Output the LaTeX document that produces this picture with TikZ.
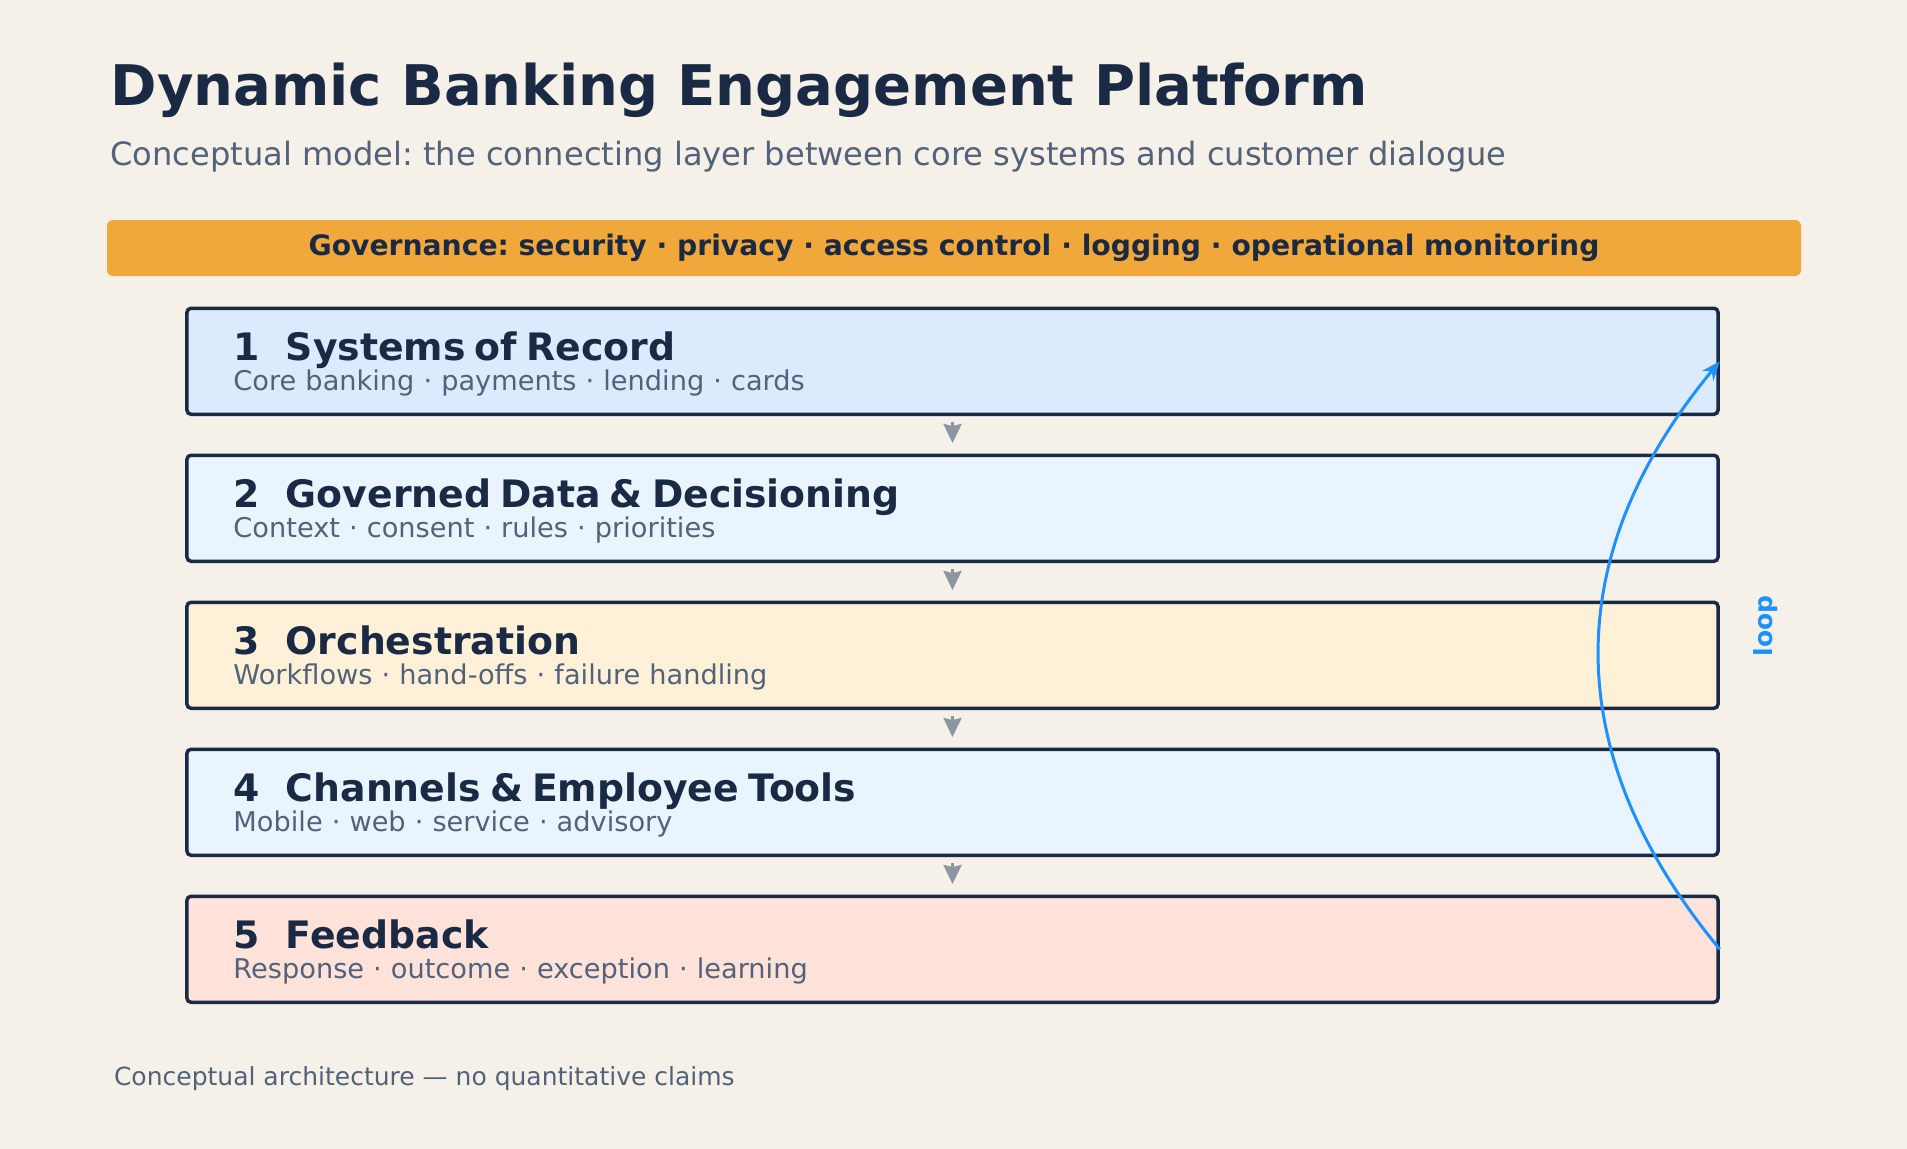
\documentclass[tikz,border=0pt]{standalone}
\usepackage{fontspec}
\setmainfont{DejaVu Sans}
\usepackage{tikz}
\usetikzlibrary{shapes,arrows,arrows.meta}
\usepackage{xcolor}

\definecolor{paper}{HTML}{F5F0E8}
\definecolor{navy}{HTML}{1B2A44}
\definecolor{slate}{HTML}{52627A}
\definecolor{govOrange}{HTML}{F0A83A}
\definecolor{recordBlue}{HTML}{DCEAFD}
\definecolor{paleBlue}{HTML}{EAF4FE}
\definecolor{orchCream}{HTML}{FFF1D8}
\definecolor{feedbackRose}{HTML}{FFE2DA}
\definecolor{arrowGray}{HTML}{8C96A2}
\definecolor{loopBlue}{HTML}{1E90FF}
\setlength{\lineskiplimit}{-20pt}
\frenchspacing
\newcommand{\layerhead}[2]{{\fontsize{37.8}{37.8}\selectfont\bfseries\color{navy}\rule{0pt}{33.5pt}#1\hspace{0.69em}#2}}
\newcommand{\andsign}{{\char`\&}}

\begin{document}
\begin{tikzpicture}[
  x=1pt,y=-1pt,
  every matrix/.style={ampersand replacement=\&,row sep=37.5pt,inner sep=0pt},
  layer/.style={draw=navy,line width=3.5pt,rounded corners=4pt,rectangle,text width=1438pt,
inner xsep=46.5pt,inner ysep=0pt,minimum height=106pt,align=left,text=slate,
font=\fontsize{27.2}{30}\selectfont},
  recordLayer/.style={layer,fill=recordBlue},
  dataLayer/.style={layer,fill=paleBlue},
  orchLayer/.style={layer,fill=orchCream},
  channelLayer/.style={layer,fill=paleBlue},
  feedbackLayer/.style={layer,fill=feedbackRose},
  govBar/.style={fill=govOrange,rounded corners=6pt,minimum width=1694pt,minimum
height=56pt,inner sep=0pt,text=navy,font=\fontsize{28.2}{28.2}\selectfont\bfseries},
  flowArrow/.style={->,>={Stealth[length=19pt,width=18pt,inset=2pt]},line width=3pt,
arrowGray,shorten <=6pt,shorten >=10.5pt},
  loopEdge/.style={->,>={Stealth[length=19pt,width=15pt]},line width=3pt,loopBlue},
  loopLabel/.style={text=loopBlue,font=\fontsize{25}{25}\selectfont\bfseries,rotate=90},
  heading/.style={anchor=base west,text=navy,font=\fontsize{56}{56}\selectfont\bfseries},
  subHeading/.style={anchor=base west,text=slate,font=\fontsize{32.1}{32.1}\selectfont},
  footNote/.style={anchor=base west,text=slate,font=\fontsize{25}{25}\selectfont}]

  % page
  \fill [paper] (0,0) rectangle (1907,1149);
  \useasboundingbox (0,0) rectangle (1907,1149);

  % headings
  \node[heading] (title) at (107,105) {Dynamic Banking Engagement Platform};
  \node[subHeading] (subtitle) at (107,165) {Conceptual model: the connecting layer between core systems and customer dialogue};
  \node[govBar] (gov) at (954,248) {Governance: security · privacy · access control · logging · operational monitoring};

  % Stack the layers using a matrix layout
  \matrix at (952.5,655.25) {
    \node[recordLayer] (lRecord) {\layerhead{1}{Systems of Record}\\Core banking · payments · lending · cards}; \\
    \node[dataLayer] (lData) {\layerhead{2}{Governed Data \andsign{} Decisioning}\\Context · consent · rules · priorities}; \\
    \node[orchLayer] (lOrch) {\layerhead{3}{Orchestration}\\Workflows · hand-offs · failure handling}; \\
    \node[channelLayer] (lChannels) {\layerhead{4}{Channels \andsign{} Employee Tools}\\Mobile · web · service · advisory}; \\
    \node[feedbackLayer] (lFeedback) {\layerhead{5}{Feedback}\\Response · outcome · exception · learning}; \\
  };

  % layer to layer
  \draw [flowArrow] (lRecord) edge (lData);
  \draw [flowArrow] (lData) edge (lOrch);
  \draw [flowArrow] (lOrch) edge (lChannels);
  \draw [flowArrow] (lChannels) edge (lFeedback);

  % feedback back to the records
  \draw [loopEdge] (lFeedback.east) .. controls +(-161,-195) and +(-161,195) .. (lRecord.east);
  \node[loopLabel] (loopText) at (1766,626) {loop};

  \node[footNote] (foot) at (110.5,1085) {Conceptual architecture — no quantitative claims};
\end{tikzpicture}
\end{document}
